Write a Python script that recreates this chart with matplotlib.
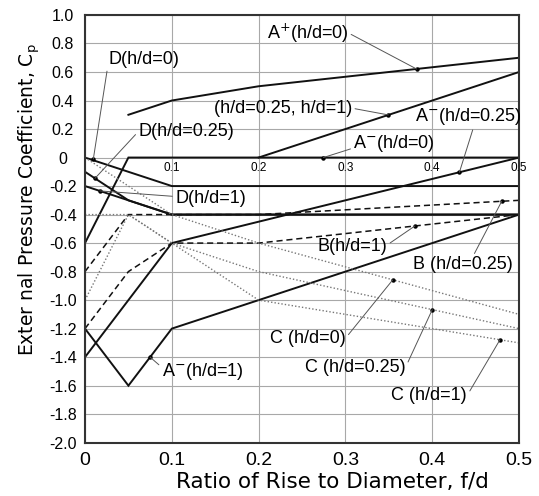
import matplotlib
matplotlib.use("Agg")
import matplotlib.pyplot as plt
import numpy as np

# f/d break points and Cp values
a_pos_h0_x = [0.05, 0.1, 0.2, 0.5]
a_pos_h0_y = [0.3, 0.4, 0.5, 0.7]
a_pos_h25_x = [0.2, 0.5]
a_pos_h25_y = [0.0, 0.6]
a_neg_h0_x = [0.0, 0.05, 0.5]
a_neg_h0_y = [-0.6, 0.0, 0.0]
a_neg_h25_x = [0.0, 0.1, 0.5]
a_neg_h25_y = [-1.4, -0.6, 0.0]
a_neg_h1_x = [0.0, 0.05, 0.1, 0.5]
a_neg_h1_y = [-1.2, -1.6, -1.2, -0.4]
b_h25_x = [0.0, 0.05, 0.2, 0.5]
b_h25_y = [-0.8, -0.4, -0.4, -0.3]
b_h1_x = [0.0, 0.05, 0.1, 0.2, 0.5]
b_h1_y = [-1.2, -0.8, -0.6, -0.6, -0.4]
c_h0_x = [0.0, 0.1, 0.2, 0.5]
c_h0_y = [0.0, -0.4, -0.6, -1.1]
c_h25_x = [0.0, 0.05, 0.1, 0.2, 0.5]
c_h25_y = [-1.0, -0.4, -0.6, -0.8, -1.2]
c_h1_x = [0.0, 0.05, 0.1, 0.2, 0.5]
c_h1_y = [-0.4, -0.4, -0.6, -1.0, -1.3]
d_h0_x = [0.0, 0.1, 0.5]
d_h0_y = [0.0, -0.2, -0.2]
d_h25_x = [0.0, 0.05, 0.1, 0.5]
d_h25_y = [-0.1, -0.3, -0.4, -0.4]
d_h1_x = [0.0, 0.1, 0.5]
d_h1_y = [-0.2, -0.4, -0.4]

x_ticks = [0, 0.1, 0.2, 0.3, 0.4, 0.5]
x_tick_labels = ["0", "0.1", "0.2", "0.3", "0.4", "0.5"]
y_ticks = np.round(np.arange(-2.0, 1.01, 0.2), 1)
y_tick_labels = ["0" if abs(v) < 1e-9 else f"{v:.1f}" for v in y_ticks]
inner_labels = ["0.1", "0.2", "0.3", "0.4", "0.5"]
inner_pos = [0.1, 0.2, 0.3, 0.4, 0.5]

fig = plt.figure(figsize=(5.39, 4.96), dpi=100)
ax = fig.add_axes([0.1577, 0.1075, 0.963 - 0.1577, 0.9698 - 0.1075])

solid = dict(color="#111111", lw=1.4, solid_joinstyle="miter")
dashed = dict(color="#111111", lw=1.1, ls=(0, (4, 2.5)))
dotted = dict(color="#777777", lw=1.0, ls=(0, (1, 1.5)))

ax.plot(a_pos_h0_x, a_pos_h0_y, **solid)
ax.plot(a_pos_h25_x, a_pos_h25_y, **solid)
ax.plot(a_neg_h0_x, a_neg_h0_y, **solid)
ax.plot(a_neg_h25_x, a_neg_h25_y, **solid)
ax.plot(a_neg_h1_x, a_neg_h1_y, **solid)
ax.plot(d_h0_x, d_h0_y, **solid)
ax.plot(d_h25_x, d_h25_y, **solid)
ax.plot(d_h1_x, d_h1_y, **solid)
ax.plot(b_h25_x, b_h25_y, **dashed)
ax.plot(b_h1_x, b_h1_y, **dashed)
ax.plot(c_h0_x, c_h0_y, **dotted)
ax.plot(c_h25_x, c_h25_y, **dotted)
ax.plot(c_h1_x, c_h1_y, **dotted)

ax.set_xlim(0, 0.5)
ax.set_ylim(-2.0, 1.0)
ax.set_xticks(x_ticks)
ax.set_xticklabels(x_tick_labels, family="Liberation Sans", fontsize=14)
ax.set_yticks(y_ticks)
ax.set_yticklabels(y_tick_labels, family="Liberation Sans", fontsize=11.5)
for t in ax.get_yticklabels():
    t.set_ha("center")
ax.tick_params(axis="y", length=0, pad=16)
ax.tick_params(axis="x", length=0, pad=7)
ax.grid(True, color="#a8a8a8", lw=0.8)
ax.set_axisbelow(True)
for s in ax.spines.values():
    s.set_linewidth(1.5)
    s.set_color("#333333")

# small labels along the Cp = 0 line
for p, lab in zip(inner_pos, inner_labels):
    ax.text(p, -0.03, lab, ha="center", va="top", fontsize=8.5,
            family="Liberation Sans")

# callouts: text, text position, relpos of leader start, point on curve
callouts = [
    ("A$^{+}$(h/d=0)", (0.2093, 0.874), (1, 0.5), (0.382, 0.621)),
    ("(h/d=0.25, h/d=1)", (0.1486, 0.346), (1, 0.5), (0.3494, 0.299)),
    ("A$^{-}$(h/d=0)", (0.309, 0.096), (0, 0.3), (0.2746, 0.0)),
    ("A$^{-}$(h/d=0.25)", (0.380, 0.287), (0.55, 0.0), (0.4313, -0.103)),
    ("D(h/d=0)", (0.0269, 0.685), (0, 0.35), (0.0096, -0.01)),
    ("D(h/d=0.25)", (0.0614, 0.182), (0, 0.5), (0.0115, -0.146)),
    ("D(h/d=1)", (0.1037, -0.285), (0, 0.6), (0.017, -0.234)),
    ("B(h/d=1)", (0.268, -0.624), (1, 0.6), (0.380, -0.48)),
    ("B (h/d=0.25)", (0.378, -0.752), (0.6, 1), (0.48, -0.307)),
    ("C (h/d=0)", (0.213, -1.266), (1, 0.5), (0.3545, -0.858)),
    ("C (h/d=0.25)", (0.253, -1.476), (1, 0.5), (0.40, -1.067)),
    ("C (h/d=1)", (0.353, -1.67), (1, 0.5), (0.478, -1.278)),
    ("A$^{-}$(h/d=1)", (0.0883, -1.50), (0, 0.7), (0.075, -1.40)),
]
for txt, xy_text, rel, xy_pt in callouts:
    ax.annotate(txt, xy=xy_pt, xytext=xy_text, ha="left", va="center",
                fontsize=13, family="Liberation Sans",
                arrowprops=dict(arrowstyle="-", color="#555555", lw=0.7,
                                shrinkA=0, shrinkB=0, relpos=rel))
    ax.plot(*xy_pt, "o", color="black", ms=2.2)

fig.text(0.054, 0.597, "Exter nal Pressure Coefficient, C$_{\\mathrm{p}}$",
         rotation=90, ha="center", va="center", fontsize=13.5,
         family="DejaVu Sans")
fig.text(0.616, 0.029, "Ratio of Rise to Diameter, f/d", ha="center",
         va="center", fontsize=15.5, family="DejaVu Sans")

fig.savefig("out.png", dpi=100)
